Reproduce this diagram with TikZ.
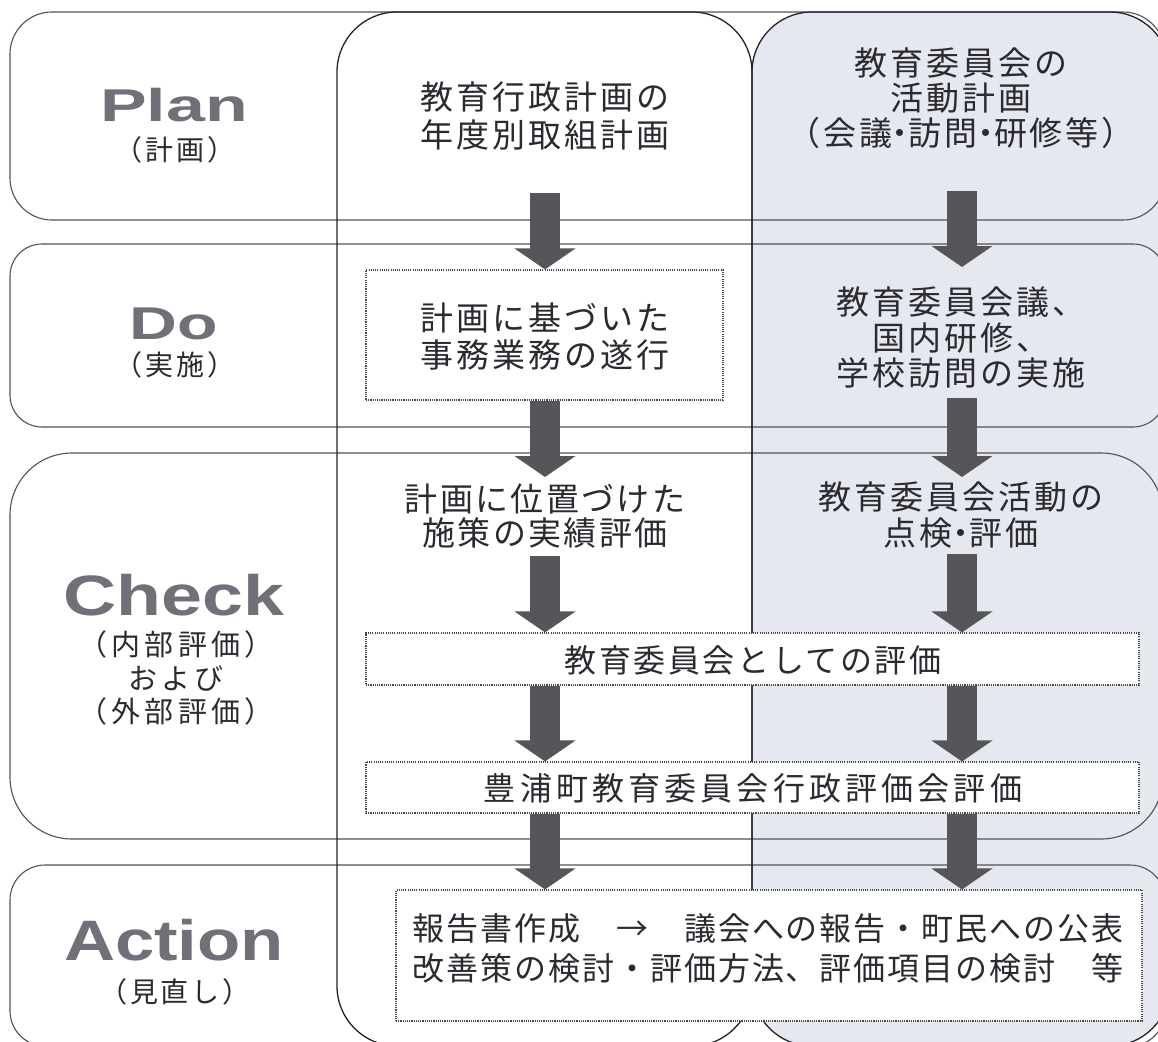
\documentclass[tikz,border=0pt]{standalone}
\usepackage{fontspec}
\usepackage{graphicx}
\setmainfont{Noto Sans CJK JP}
\newfontfamily\latb{Liberation Sans Bold}
\newcommand{\ndot}{{\addfontfeature{RawFeature=+palt}・}}
\usetikzlibrary{arrows.meta}
\definecolor{txt}{RGB}{42,42,48}
\definecolor{lab}{RGB}{112,112,120}
\definecolor{colfill}{RGB}{229,232,239}
\definecolor{rowline}{RGB}{80,82,86}
\definecolor{colline}{RGB}{35,35,45}
\definecolor{boxline}{RGB}{70,70,75}
\definecolor{arr}{RGB}{85,85,90}
\tikzset{
  rowbox/.style={draw=rowline, line width=1.1pt},
  colbox/.style={draw=colline, line width=1.3pt},
  dbox/.style={draw=boxline, fill=white, line width=1.1pt, dash pattern=on 1.1pt off 1.1pt, inner sep=0pt},
  ctext/.style={text=txt, align=center, inner sep=0pt, font=\fontsize{33}{37}\selectfont\addfontfeature{LetterSpace=9}},
  btext/.style={text=txt, align=center, inner sep=0pt, font=\fontsize{32}{36}\selectfont\addfontfeature{LetterSpace=8}},
  flow/.style={draw=arr, line width=30pt, -{Triangle[length=21pt,width=60pt]}},
  word/.style={text=lab, inner sep=0pt, anchor=base},
  sublab/.style={text=txt, align=center, inner sep=0pt, font=\fontsize{28}{33.5}\selectfont\addfontfeature{LetterSpace=10}},
}
\begin{document}
\begin{tikzpicture}[x=1pt,y=-1pt]
\useasboundingbox (0,0) rectangle (1158,1041);
\fill[white] (0,0) rectangle (1158,1041);
% right column background
\path[fill=colfill, rounded corners=60pt] (752,12) rectangle (1170,1046);
% rows
\draw[rowbox, rounded corners=42pt] (10,12) rectangle (1165,220);
\draw[rowbox, rounded corners=32pt] (10,244) rectangle (1165,427);
\draw[rowbox, rounded corners=62pt] (10,453) rectangle (1163,839);
\draw[rowbox, rounded corners=35pt] (10,865) rectangle (1165,1046);
% columns
\draw[colbox, rounded corners=60pt] (337,12) rectangle (752,1046);
\draw[colbox, rounded corners=60pt] (752,12) rectangle (1170,1046);

% left labels
\node[word, font=\latb\fontsize{46}{46}\selectfont] (lplan) at (174,121) {\scalebox{1.52}[1]{Plan}};
\node[sublab] (lplanj) at (175,150) {（計画）};
\node[word, font=\latb\fontsize{46}{46}\selectfont] (ldo) at (174,339) {\scalebox{1.44}[1]{Do}};
\node[sublab] (ldoj) at (175,365) {（実施）};
\node[word, font=\latb\fontsize{57}{57}\selectfont] (lcheck) at (174,615) {\scalebox{1.29}[1]{Check}};
\node[sublab, font=\fontsize{29}{33.5}\selectfont\addfontfeature{LetterSpace=14}] (lcheckj) at (176,678) {（内部評価）\\および\\（外部評価）};
\node[word, font=\latb\fontsize{57}{57}\selectfont] (laction) at (174,960) {\scalebox{1.24}[1]{Action}};
\node[sublab] (lactionj) at (175,992) {（見直し）};

% column texts
\node[ctext, font=\fontsize{33}{38}\selectfont\addfontfeature{LetterSpace=9}] (pm) at (545,116) {教育行政計画の\\年度別取組計画};
\node[ctext, font=\fontsize{33}{35}\selectfont\addfontfeature{LetterSpace=9}] (pr) at (961,98) {教育委員会の\\活動計画\\（会議\ndot 訪問\ndot 研修等）};
\node[dbox, minimum width=357pt, minimum height=130pt] (dm) at (544.5,335) {};
\node[ctext] (dmt) at (545,336.5) {計画に基づいた\\事務業務の遂行};
\node[ctext, font=\fontsize{33}{35.5}\selectfont\addfontfeature{LetterSpace=9}] (dr) at (961,337.5) {教育委員会議、\\国内研修、\\学校訪問の実施};
\node[ctext, font=\fontsize{33}{34}\selectfont\addfontfeature{LetterSpace=7}] (cm) at (545,516.5) {計画に位置づけた\\施策の実績評価};
\node[ctext, font=\fontsize{33}{36}\selectfont\addfontfeature{LetterSpace=9}] (cr) at (961,515) {教育委員会活動の\\点検\ndot 評価};
\node[dbox, minimum width=773pt, minimum height=52pt] (b1) at (752.5,659) {};
\node[btext] (b1t) at (753,660) {教育委員会としての評価};
\node[dbox, minimum width=773pt, minimum height=51pt] (b2) at (752.5,787.5) {};
\node[btext, font=\fontsize{32}{36}\selectfont\addfontfeature{LetterSpace=13}] (b2t) at (753,788) {豊浦町教育委員会行政評価会評価};
\node[dbox, minimum width=746pt, minimum height=131pt] (ab) at (769,955.5) {};
\node[btext, align=left, font=\fontsize{32}{40}\selectfont\addfontfeature{LetterSpace=6}] (abt) at (768,948) {報告書作成　→　議会への報告・町民への公表\\改善策の検討・評価方法、評価項目の検討　等};

% arrows
\coordinate (m1s) at (545,193);
\coordinate (m2e) at (545,477);
\coordinate (m3s) at (545,556);
\coordinate (r1s) at (962,191);
\coordinate (r1e) at (962,267);
\coordinate (r2s) at (962,398);
\coordinate (r2e) at (962,477);
\coordinate (r3s) at (962,554);
\draw[flow] (m1s) -- (m1s |- dm.north);
\draw[flow] (m2e |- dm.south) -- (m2e);
\draw[flow] (m3s) -- (m3s |- b1.north);
\draw[flow] (m3s |- b1.south) -- (m3s |- b2.north);
\draw[flow] (m3s |- b2.south) -- (m3s |- ab.north);
\draw[flow] (r1s) -- (r1e);
\draw[flow] (r2s) -- (r2e);
\draw[flow] (r3s) -- (r3s |- b1.north);
\draw[flow] (r3s |- b1.south) -- (r3s |- b2.north);
\draw[flow] (r3s |- b2.south) -- (r3s |- ab.north);
\end{tikzpicture}
\end{document}
